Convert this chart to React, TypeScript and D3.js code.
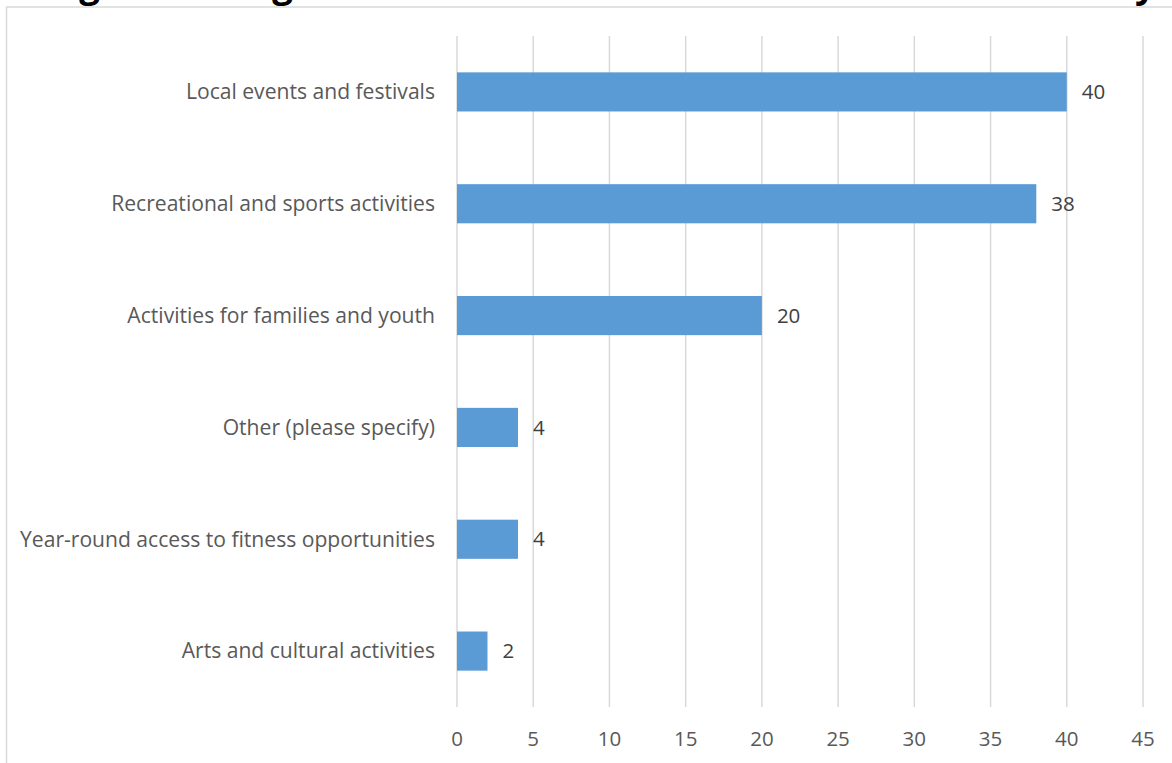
import React from 'react';
import * as d3 from 'd3';

const categories = [
  'Local events and festivals',
  'Recreational and sports activities',
  'Activities for families and youth',
  'Other (please specify)',
  'Year-round access to fitness opportunities',
  'Arts and cultural activities',
];
const values = [40, 38, 20, 4, 4, 2];
const xTicks = [0, 5, 10, 15, 20, 25, 30, 35, 40, 45];
const title = 'Figure 12: Highest Rated Activities Needed in the Community';

const W = 1172;
const H = 763;

const App: React.FC = () => {
  const ref = React.useRef<SVGSVGElement>(null);

  React.useEffect(() => {
    const svg = d3.select(ref.current);
    svg.selectAll('*').remove();
    const font = '"Open Sans", sans-serif';

    const x = d3.scaleLinear().domain([0, 45]).range([457, 1143]);
    const y = d3
      .scaleBand()
      .domain(categories)
      .range([36, 707])
      .paddingInner(0.65)
      .paddingOuter(0.325);

    svg.append('rect').attr('width', W).attr('height', H).attr('fill', '#fff');

    // chart frame
    svg
      .append('rect')
      .attr('x', 6.5)
      .attr('y', 7)
      .attr('width', W + 20)
      .attr('height', H + 20)
      .attr('fill', 'none')
      .attr('stroke', '#d9d9d9')
      .attr('stroke-width', 1.5);

    // title, mostly cut off at the top
    svg
      .append('text')
      .attr('x', 602)
      .attr('y', -3)
      .attr('text-anchor', 'middle')
      .attr('font-family', font)
      .attr('font-weight', 'bold')
      .attr('font-size', 36.5)
      .attr('fill', '#000')
      .text(title);

    svg
      .append('g')
      .selectAll('line')
      .data(xTicks)
      .enter()
      .append('line')
      .attr('x1', (d) => x(d))
      .attr('x2', (d) => x(d))
      .attr('y1', 36)
      .attr('y2', 707)
      .attr('stroke', '#d9d9d9')
      .attr('stroke-width', 1.5);

    svg
      .append('g')
      .selectAll('text')
      .data(xTicks)
      .enter()
      .append('text')
      .attr('x', (d) => x(d))
      .attr('y', 746)
      .attr('text-anchor', 'middle')
      .attr('font-family', font)
      .attr('font-size', 20.5)
      .attr('fill', '#595959')
      .text((d) => d);

    svg
      .append('g')
      .selectAll('rect')
      .data(values)
      .enter()
      .append('rect')
      .attr('x', x(0))
      .attr('y', (_d, i) => y(categories[i])!)
      .attr('width', (d) => x(d) - x(0))
      .attr('height', y.bandwidth())
      .attr('fill', '#5b9bd5');

    svg
      .append('g')
      .selectAll('text')
      .data(values)
      .enter()
      .append('text')
      .attr('x', (d) => x(d) + 15)
      .attr('y', (_d, i) => y(categories[i])! + y.bandwidth() / 2)
      .attr('dy', '0.35em')
      .attr('font-family', font)
      .attr('font-size', 20.5)
      .attr('fill', '#404040')
      .text((d) => d);

    svg
      .append('g')
      .selectAll('text')
      .data(categories)
      .enter()
      .append('text')
      .attr('x', 435)
      .attr('y', (d) => y(d)! + y.bandwidth() / 2)
      .attr('dy', '0.35em')
      .attr('text-anchor', 'end')
      .attr('font-family', font)
      .attr('font-size', 21.1)
      .attr('fill', '#595959')
      .text((d) => d);
  }, []);

  return (
    <svg
      ref={ref}
      width={W}
      height={H}
      style={{ position: 'absolute', left: 0, top: 0 }}
    />
  );
};

export default App;
